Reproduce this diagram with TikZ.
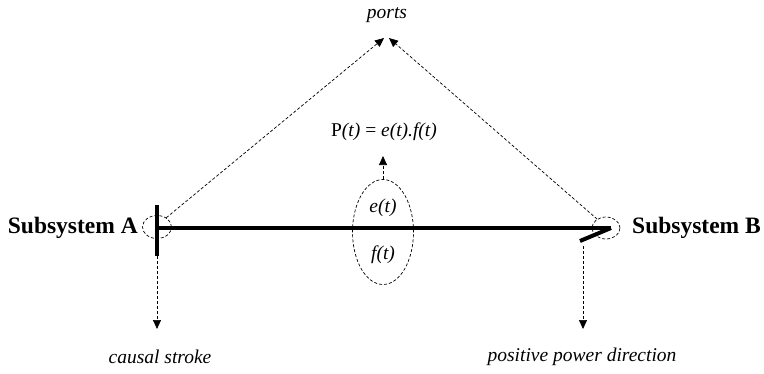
\documentclass[tikz,border=0pt]{standalone}
\usepackage{fontspec}
\setmainfont{Liberation Serif}
\usetikzlibrary{shapes.geometric,arrows.meta}
\tikzset{
  lbl/.style={font=\fontsize{19.5}{23}\selectfont\itshape, inner sep=0pt},
  sub/.style={font=\fontsize{23.5}{27}\selectfont\bfseries, inner sep=0pt},
  portell/.style={ellipse, draw, densely dashed, line width=0.7pt, inner sep=0pt},
  pointer/.style={densely dashed, line width=0.7pt, -{Triangle[length=9pt,width=8pt]}},
  bond/.style={line width=4pt},
  stroke/.style={line width=3.5pt}
}
\begin{document}
\begin{tikzpicture}[x=1pt,y=-1pt]
\useasboundingbox (0,0) rectangle (764,373);
% ellipses
\node[portell, minimum width=29pt, minimum height=23pt] (ea) at (157,227) {};
\node[portell, minimum width=28pt, minimum height=22pt] (eb) at (606,228) {};
\node[portell, minimum width=61pt, minimum height=105pt] (ec) at (383,232) {};
% texts
\node[sub, anchor=east] (sa) at (138,228) {Subsystem A};
\node[sub, anchor=west] (sb) at (632,228) {Subsystem B};
\node[lbl] (ports) at (387,15) {ports};
\node[lbl] (pw) at (384,132) {\upshape P\itshape(t) \upshape= \itshape e(t).f(t)};
\node[lbl] (et) at (383,208) {e(t)};
\node[lbl] (ft) at (383,255) {f(t)};
\node[lbl] (cs) at (160,357) {causal stroke};
\node[lbl] (ppd) at (582,357) {positive power direction};
% coordinates
\coordinate (bl) at (155,228);
\coordinate (br) at (611,228);
\coordinate (bh) at (580,241);
\coordinate (st) at (157,205);
\coordinate (sbm) at (157,256);
\coordinate (pA) at (384,38);
\coordinate (pB) at (389,38);
\coordinate (pt) at (383,156);
\coordinate (csT) at (157,329);
\coordinate (hb) at (583,246);
\coordinate (ppT) at (583,329);
% bond
\draw[bond] (bl) -- (br);
\draw[bond] (br) -- (bh);
\draw[stroke] (st) -- (sbm);
% pointers
\draw[pointer] (ea.45) -- (pA);
\draw[pointer] (eb.135) -- (pB);
\draw[pointer] (ec.north) -- (pt);
\draw[pointer] (sbm) -- (csT);
\draw[pointer] (hb) -- (ppT);
\end{tikzpicture}
\end{document}
